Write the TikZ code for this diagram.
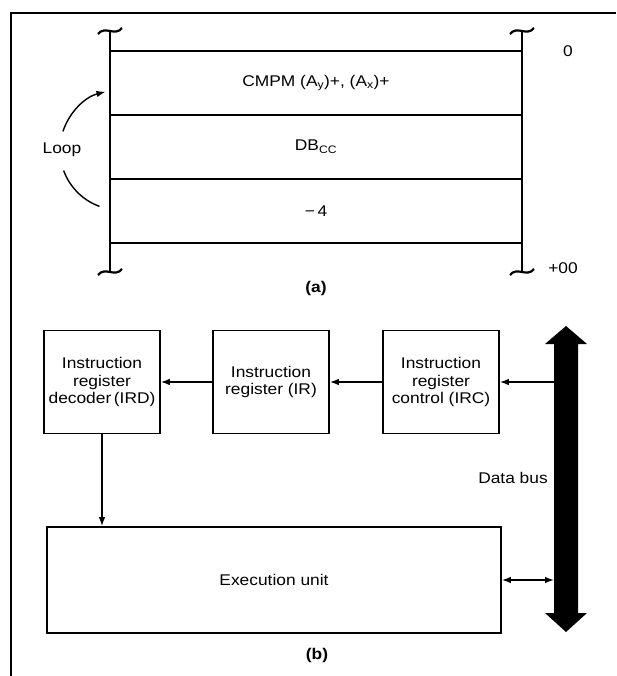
\documentclass[tikz,border=0pt]{standalone}
\usepackage{fontspec}
\setmainfont{Liberation Sans}[FakeStretch=1.12]
\usetikzlibrary{positioning,arrows.meta,calc}
\tikzset{
    on grid,
    block/.style = {
        draw,
        shape=rectangle,
        minimum height=103pt,
        minimum width=116pt,
        line width=1.6pt,
        align=center
    },
    cell/.style = {
        draw,
        shape=rectangle,
        minimum height=64pt,
        minimum width=412pt,
        line width=1.5pt
    },
    unit/.style = {
        draw,
        shape=rectangle,
        minimum height=106pt,
        minimum width=454pt,
        line width=1.6pt
    },
    wire/.style = {line width=1.4pt},
    edge/.style = {line width=1.8pt},
    brk/.pic = {
        \draw[line width=2.2pt] (-12,3) .. controls (-5,-6) and (5,6) .. (12,-3);
    },
    >={Latex[length=9pt,width=6.5pt]},
}

\begin{document}
\begin{tikzpicture}[x=1pt,y=-1pt,font=\fontsize{15.5}{17.5}\selectfont]
        \useasboundingbox (0,0) rectangle (616,676);

        % frame
        \path[draw, line width=1.6pt] (11,676) -- (11,13) -- (616,13);

        % (a) memory
        \node[cell] (c1) at (316,83) {CMPM (A\textsubscript{y})+, (A\textsubscript{x})+};
        \node[cell, below=64pt of c1] (c2) {DB\textsubscript{CC}};
        \node[cell, below=64pt of c2] (c3) {−\,4};

        \coordinate (ltop) at (110,31);
        \coordinate (lbot) at (110,272);
        \coordinate (rtop) at (522,31);
        \coordinate (rbot) at (522,272);
        \path[draw, edge] (ltop) -- (lbot);
        \path[draw, edge] (rtop) -- (rbot);
        \pic at (ltop) {brk};
        \pic at (lbot) {brk};
        \pic at (rtop) {brk};
        \pic at (rbot) {brk};

        \node (zero) at (568,51) {0};
        \node (end) at (563,268) {+00};
        \node (loop) at (62,150) {Loop};
        \node (capa) at (316,288) {\textbf{(a)}};

        \coordinate (pivot) at ($(loop)+(58,0)$);
        \path[draw, wire, ->] (pivot) ++(198:60) arc[start angle=198, end angle=256, radius=60];
        \path[draw, wire] (pivot) ++(160:60) arc[start angle=160, end angle=110, radius=60];

        % (b) blocks
        \node[block] (ird) at (102,382) {Instruction\\register\\decoder\,(IRD)};
        \node[block, right=169pt of ird] (ir) {Instruction\\register (IR)};
        \node[block, right=170pt of ir] (irc) {Instruction\\register\\control (IRC)};
        \node[unit] (eu) at (274,580) {Execution unit};

        % data bus
        \coordinate (bus) at (566,479);
        \coordinate (busw) at (554,479);
        \fill ([shift={(0,-153)}]bus) -- ++(21,18) -- ++(-9,0) -- ++(0,269) -- ++(9,0)
            -- ++(-21,19) -- ++(-21,-19) -- ++(9,0) -- ++(0,-269) -- ++(-9,0) -- cycle;
        \node (buslabel) at (513,478) {Data bus};
        \node (capb) at (317,655) {\textbf{(b)}};

        \path[draw, wire, ->] (irc.east -| busw) -- (irc.east);
        \path[draw, wire, ->] (irc) -- (ir);
        \path[draw, wire, ->] (ir) -- (ird);
        \path[draw, wire, ->] (ird.south) -- (ird.south |- eu.north);
        \path[draw, wire, <->] (eu.east) -- (eu.east -| busw);
    \end{tikzpicture}
\end{document}
